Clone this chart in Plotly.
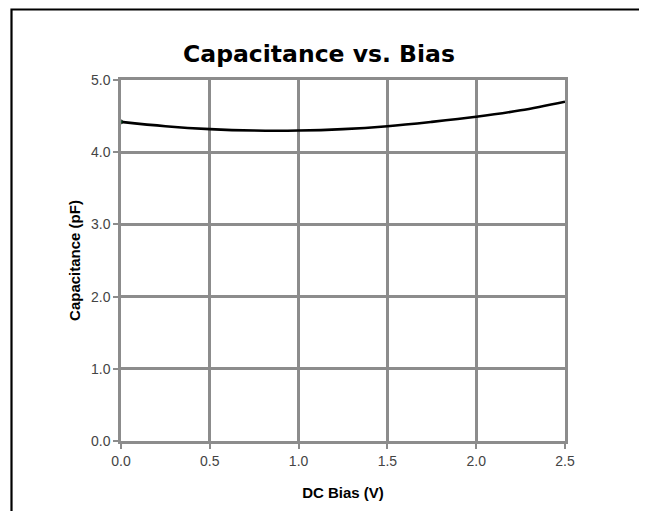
import plotly.graph_objects as go

bias_v = [0.0, 0.25, 0.5, 0.75, 1.0, 1.25, 1.5, 1.75, 2.0, 2.25, 2.5]
capacitance_pf = [4.42, 4.36, 4.32, 4.30, 4.30, 4.32, 4.36, 4.42, 4.49, 4.58, 4.70]
x_ticks = [0.0, 0.5, 1.0, 1.5, 2.0, 2.5]
y_ticks = [0.0, 1.0, 2.0, 3.0, 4.0, 5.0]

# the page body has an 8px margin, so the figure is laid out in page pixels minus 8
OFF = 8
W, H = 647 - OFF, 511 - OFF
L, R, T, B = 121 - OFF, 565 - OFF, 80 - OFF, 441 - OFF
pw, ph = R - L, B - T

marker_sizes = [4] + [0] * (len(bias_v) - 1)

fig = go.Figure()
fig.add_trace(go.Scatter(
    x=bias_v, y=capacitance_pf, mode="lines+markers",
    line=dict(color="black", width=2.6, shape="spline", smoothing=1.0),
    marker=dict(size=marker_sizes, color="#1a7a3a"),
    showlegend=False, hoverinfo="x+y",
))

grid = "#8c8c8c"
font = "Liberation Sans, Arial, sans-serif"

fig.update_layout(
    width=W, height=H,
    margin=dict(l=L, r=W - R, t=T, b=H - B),
    paper_bgcolor="white", plot_bgcolor="white",
    title=dict(text="<b>Capacitance vs. Bias</b>", x=(319 - OFF) / W, xanchor="center",
               y=1 - (54 - OFF) / H, yanchor="middle", yref="container",
               font=dict(family="DejaVu Sans, sans-serif", size=23.5, color="black")),
    xaxis=dict(range=[0, 2.5], tickvals=x_ticks, ticktext=[f"{v:.1f}" for v in x_ticks],
               showgrid=True, gridcolor=grid, gridwidth=2.5,
               showline=True, linecolor=grid, linewidth=2.5, mirror=True,
               ticks="outside", ticklen=5, tickwidth=2, tickcolor=grid,
               tickfont=dict(family=font, size=14, color="#444444"),
               zeroline=False, fixedrange=True,
               title=dict(text="<b>DC Bias (V)</b>", standoff=20,
                          font=dict(family=font, size=15, color="black"))),
    yaxis=dict(range=[0, 5], tickvals=y_ticks, ticktext=[f"{v:.1f}" for v in y_ticks],
               showgrid=True, gridcolor=grid, gridwidth=2.5,
               showline=True, linecolor=grid, linewidth=2.5, mirror=True,
               ticks="outside", ticklen=5, tickwidth=2, tickcolor=grid,
               tickfont=dict(family=font, size=14, color="#444444"),
               zeroline=False, fixedrange=True,
               title=dict(text="<b>Capacitance (pF)</b>", standoff=7,
                          font=dict(family=font, size=15, color="black"))),
)

# outer frame around the whole chart, in paper coordinates derived from pixels
def px_x(p):
    return (p - OFF - L) / pw

def px_y(p):
    return (B - (p - OFF)) / ph

fig.add_shape(type="rect", xref="paper", yref="paper",
              x0=px_x(11.5), x1=px_x(641), y0=px_y(530), y1=px_y(9.5),
              line=dict(color="black", width=2.2), layer="above")

fig.write_html("out.html")
